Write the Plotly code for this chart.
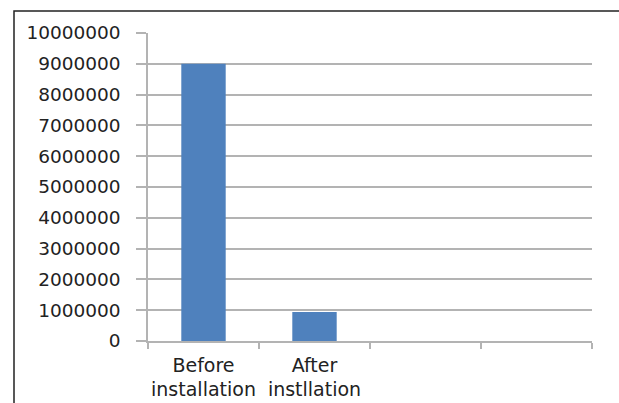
import plotly.graph_objects as go

categories = ["Before<br>installation", "After<br>instllation", " ", "  "]
values = [9000000, 940000, None, None]
y_ticks = [0, 1000000, 2000000, 3000000, 4000000, 5000000, 6000000, 7000000, 8000000, 9000000, 10000000]

W, H = 619, 403
L, R, T, B = 148, 27, 33, 62
pw, ph = W - L - R, H - T - B

fig = go.Figure(go.Bar(x=categories, y=values, marker=dict(color="#4F81BD", line=dict(width=0))))

grid = "#b3b3b3"
fig.update_layout(
    width=W, height=H,
    margin=dict(l=L, r=R, t=T, b=B, autoexpand=False),
    paper_bgcolor="white", plot_bgcolor="white",
    bargap=0.6, showlegend=False,
    font=dict(family="DejaVu Sans", size=18, color="#222222"),
    shapes=[dict(type="rect", xref="paper", yref="paper",
                 x0=(14 - L) / pw, x1=(W + 10 - L) / pw,
                 y0=-(H + 10 - T - ph) / ph, y1=1 + (T - 11) / ph,
                 line=dict(color="#222222", width=1.5), fillcolor="rgba(0,0,0,0)", layer="below")],
)
fig.update_xaxes(type="category", categoryorder="array", categoryarray=categories,
                 showline=True, linecolor=grid, linewidth=1.5,
                 ticks="outside", tickson="boundaries", ticklen=6, tickcolor=grid, tickwidth=1.5,
                 showgrid=False, range=[-0.5, 3.5], tickfont=dict(size=19),
                 tickangle=0, automargin=False, ticklabelstandoff=6)
fig.update_yaxes(range=[0, 10000000], tickvals=y_ticks, ticktext=[str(v) for v in y_ticks],
                 showgrid=True, gridcolor=grid, gridwidth=1.5,
                 showline=True, linecolor=grid, linewidth=1.5,
                 ticks="outside", ticklen=10, tickcolor=grid, tickwidth=1.5,
                 zeroline=False, ticklabelstandoff=12, tickfont=dict(size=18.5),
                 automargin=False)

fig.write_html("out.html")
